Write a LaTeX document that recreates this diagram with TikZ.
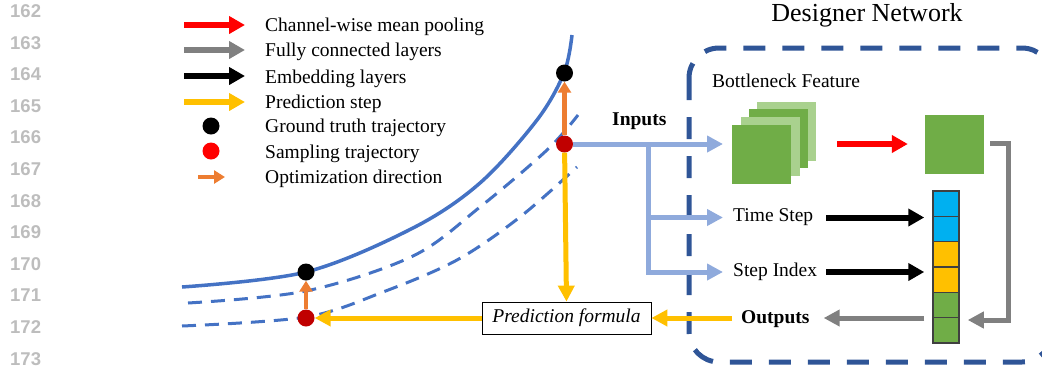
\documentclass[tikz,border=0pt]{standalone}
\usepackage{fontspec}
\setmainfont{Liberation Serif}
\newfontfamily\lnfont{Liberation Sans}
\usetikzlibrary{arrows.meta}
\definecolor{cblue}{HTML}{4472C4}
\definecolor{lblue}{HTML}{8FAADC}
\definecolor{dblue}{HTML}{2F5597}
\definecolor{cyel}{HTML}{FFC000}
\definecolor{cora}{HTML}{ED7D31}
\definecolor{cdred}{HTML}{C00000}
\definecolor{cgray}{HTML}{808080}
\definecolor{cgreen}{HTML}{70AD47}
\definecolor{lgreen}{HTML}{A9D18E}
\definecolor{ccyan}{HTML}{00B0F0}
\definecolor{lngray}{HTML}{BDBDBD}
\begin{document}
\begin{tikzpicture}[x=1pt,y=-1pt,
  txt/.style={inner sep=0pt, font=\fontsize{19.5}{23}\selectfont},
  lnum/.style={inner sep=0pt, anchor=base west, text=lngray, font=\lnfont\bfseries\fontsize{18.5}{22}\selectfont},
  fat/.style={line width=6pt, -{Triangle[length=16pt,width=17pt]}},
  mid/.style={line width=5pt, -{Triangle[length=16pt,width=16pt]}},
  oar/.style={cora, line width=4.5pt, -{Triangle[length=11pt,width=13pt]}},
  dot/.style={circle, inner sep=0pt, minimum size=17pt},
  sq/.style={minimum size=59pt, inner sep=0pt},
  cell/.style={draw=black!75, line width=1.5pt, minimum width=26pt, minimum height=25.33pt, inner sep=0pt},
  traj/.style={cblue, line width=3.5pt},
  dtraj/.style={cblue, line width=3pt, dash pattern=on 14pt off 9pt}]
\useasboundingbox (0,0) rectangle (1042,368);

% line numbers
\foreach \n [count=\k from 0] in {162,...,173}
  \node[lnum] (ln\n) at (10,{17.5+31.6*\k}) {\n};

% legend
\draw[fat, red] (184,25) -- (245,25);
\draw[fat, cgray] (184,50) -- (245,50);
\draw[fat, black] (184,76) -- (245,76);
\draw[fat, cyel] (184,102) -- (245,102);
\node[dot, fill=black] (lgdot) at (211,126) {};
\node[dot, fill=red] (lsdot) at (211,151) {};
\draw[oar] (198,177) -- (225,177);
\node[txt, anchor=base west] (l1) at (265,31) {Channel-wise mean pooling};
\node[txt, anchor=base west] (l2) at (265,56) {Fully connected layers};
\node[txt, anchor=base west] (l3) at (265,83) {Embedding layers};
\node[txt, anchor=base west] (l4) at (265,108) {Prediction step};
\node[txt, anchor=base west] (l5) at (265,132) {Ground truth trajectory};
\node[txt, anchor=base west] (l6) at (265,158) {Sampling trajectory};
\node[txt, anchor=base west] (l7) at (265,183) {Optimization direction};

% trajectories
\draw[traj] plot[smooth, tension=0.55] coordinates {(182,287) (306,272) (413,228) (480,183) (537,120) (564,73) (572,35)};
\draw[dtraj] plot[smooth, tension=0.55] coordinates {(188,303) (306,291) (413,256) (480,207) (547,150) (578,115)};
\draw[dtraj] plot[smooth, tension=0.55] coordinates {(182,326) (306,317) (383,292) (457,260) (520,217) (577,167)};

% designer network box
\draw[dblue, line width=5pt, dash pattern=on 22pt off 17pt, rounded corners=30pt] (689,48) rectangle (1052,362);
\node[inner sep=0pt, anchor=base, font=\fontsize{26}{30}\selectfont] (title) at (867,21) {Designer Network};
\node[txt, anchor=base west] (bf) at (712,87) {Bottleneck Feature};

% points
\node[dot, fill=black] (g2) at (564.5,73) {};
\node[dot, fill=cdred] (s2) at (564.5,144) {};
\node[dot, fill=black] (g1) at (306,272) {};
\node[dot, fill=cdred] (s1) at (306,318) {};

% prediction formula
\node[draw=black, line width=0.8pt, minimum width=169pt, minimum height=32pt, inner sep=0pt, font=\itshape\fontsize{19.5}{23}\selectfont] (pf) at (566.5,318) {Prediction formula};

% labels
\node[txt, anchor=base west, font=\bfseries\fontsize{19.5}{23}\selectfont] (inp) at (612,125) {Inputs};
\node[txt, anchor=west] (ts) at (733,217.5) {Time Step};
\node[txt, anchor=west] (si) at (733,272) {Step Index};
\node[txt, anchor=west, font=\bfseries\fontsize{19.5}{23}\selectfont] (out) at (741,319.5) {Outputs};

% feature maps
\node[sq, fill=lgreen] (f4) at (786.5,131.5) {};
\node[sq, fill=cgreen] (f3) at (778.5,138.5) {};
\node[sq, fill=lgreen] (f2) at (770.5,146.5) {};
\node[sq, fill=cgreen] (f1) at (761.5,154.5) {};
\node[sq, fill=cgreen] (fp) at (954.5,144.5) {};

% embedding vector
\foreach \i/\c in {1/ccyan,2/ccyan,3/cyel,4/cyel,5/cgreen,6/cgreen}
  \node[cell, fill=\c] (v\i) at (946,{191+25.33*(\i-0.5)}) {};

% connectors
\coordinate (br) at (648,144);
\coordinate (inTip) at (723,144);
\draw[mid, lblue, line join=miter] (s2) -- (inTip);
\draw[mid, lblue, line join=miter] (br) |- ([xshift=-10pt]ts.west);
\draw[mid, lblue, line join=miter] (br) |- ([xshift=-10pt]si.west);

\draw[fat, red] ([xshift=46pt]f1.east |- inTip) -- ([xshift=-17pt]fp.west |- inTip);
\draw[mid, cgray, line join=miter] ([xshift=6pt]fp.east |- 0,143) -| (1008,320) -- ([xshift=8pt]v6.east |- 0,320);
\draw[fat, black] ([xshift=13pt]ts.east) -- ([xshift=-8pt]v1.south west |- ts.east);
\draw[fat, black] ([xshift=9pt]si.east) -- ([xshift=-8pt]v3.south west |- si.east);
\draw[mid, cgray] ([xshift=-8pt]v5.south west |- pf.east) -- ([xshift=14pt]out.east |- pf.east);
\draw[mid, cyel] ([xshift=-9pt]out.west |- pf.east) -- (pf.east);
\draw[mid, cyel] (pf.west) -- (s1);
\draw[mid, cyel] (s2) -- (pf.north);
\draw[oar] (s2) -- (g2);
\draw[oar] (s1) -- (g1);
\end{tikzpicture}
\end{document}
